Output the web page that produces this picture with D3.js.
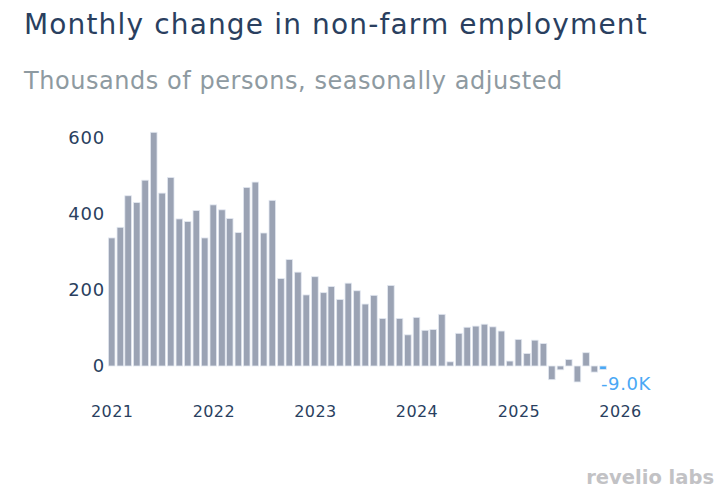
<!DOCTYPE html>
<html>
<head>
<meta charset="utf-8">
<script src="https://cdn.jsdelivr.net/npm/d3@7"></script>
<style>
  html, body { margin: 0; padding: 0; background: #fff; }
  svg { display: block; font-family: "DejaVu Sans", Verdana, sans-serif; }
</style>
</head>
<body>
<svg id="chart" width="726" height="494"></svg>
<script>
// Monthly change, thousands of persons (Jan 2021 .. Nov 2025)
const startMonth = "2021-01";
const values = [
  337, 365, 448, 430, 489, 615, 455, 496, 387, 380, 409, 337,
  424, 411, 388, 351, 470, 484, 350, 436, 230, 280, 247, 187,
  235, 193, 209, 175, 218, 198, 163, 186, 125, 212, 125, 82,
  128, 94, 96, 136, 11, 86, 102, 105, 110, 103, 92, 13,
  70, 33, 68, 59, -36, -10, 17, -42, 35, -16, -9
];
const yTicks = [0, 200, 400, 600];
const xTickYears = [2021, 2022, 2023, 2024, 2025, 2026];
const titleText = "Monthly change in non-farm employment";
const subtitleText = "Thousands of persons, seasonally adjusted";
const lastLabel = "-9.0K";
const logoText = "revelio labs";

const parse = d3.timeParse("%Y-%m");
const start = parse(startMonth);
const data = values.map((v, i) => ({ date: d3.timeMonth.offset(start, i), value: v }));

const svg = d3.select("#chart");

const x = d3.scaleTime()
  .domain([new Date(2021, 0, 1), new Date(2026, 0, 1)])
  .range([111.7, 620]);
const y = d3.scaleLinear().domain([0, 600]).range([366, 138]);

const barW = 6.6;
const gray = "#9ba3b4";
const blue = "#4aa8f5";

svg.append("text")
  .attr("x", 24).attr("y", 34)
  .attr("fill", "#2a3f5f")
  .attr("font-size", 28)
  .attr("letter-spacing", 1.15)
  .text(titleText);

svg.append("text")
  .attr("x", 24).attr("y", 89)
  .attr("fill", "#8e9aa1")
  .attr("font-size", 24)
  .attr("letter-spacing", 0.55)
  .text(subtitleText);

// bars
svg.append("g").selectAll("rect")
  .data(data)
  .join("rect")
  .attr("x", d => x(d.date) - barW / 2)
  .attr("width", barW)
  .attr("y", d => y(Math.max(0, d.value)))
  .attr("height", d => Math.abs(y(d.value) - y(0)))
  .attr("fill", (d, i) => i === data.length - 1 ? blue : gray)
  .attr("stroke", "#e3e8f1")
  .attr("stroke-width", 0.8);

// y axis (labels only)
const yAxis = d3.axisLeft(y).tickValues(yTicks).tickSize(0).tickPadding(0);
const gy = svg.append("g").attr("transform", "translate(105,0)").call(yAxis);
gy.select(".domain").remove();
gy.selectAll("text")
  .attr("fill", "#2a3f5f")
  .attr("font-size", 18)
  .attr("letter-spacing", 0.8)
  .attr("font-family", "DejaVu Sans, Verdana, sans-serif");

// x axis (labels only)
const xAxis = d3.axisBottom(x)
  .tickValues(xTickYears.map(yr => new Date(yr, 0, 1)))
  .tickFormat(d3.timeFormat("%Y"))
  .tickSize(0).tickPadding(0);
const gx = svg.append("g").attr("transform", "translate(0,406)").call(xAxis);
gx.select(".domain").remove();
gx.selectAll("text")
  .attr("fill", "#2a3f5f")
  .attr("font-size", 16)
  .attr("letter-spacing", 0.4)
  .attr("font-family", "DejaVu Sans, Verdana, sans-serif");

// last value label
const last = data[data.length - 1];
svg.append("text")
  .attr("x", x(last.date) - 2)
  .attr("y", 390)
  .attr("fill", blue)
  .attr("font-size", 18)
  .attr("letter-spacing", 0.6)
  .text(lastLabel);

// logo
svg.append("text")
  .attr("x", 714).attr("y", 484)
  .attr("text-anchor", "end")
  .attr("fill", "#c2c2c5")
  .attr("font-size", 19.5)
  .attr("font-weight", "bold")
  .attr("font-family", "DejaVu Sans, sans-serif")
  .text(logoText);
</script>
</body>
</html>
